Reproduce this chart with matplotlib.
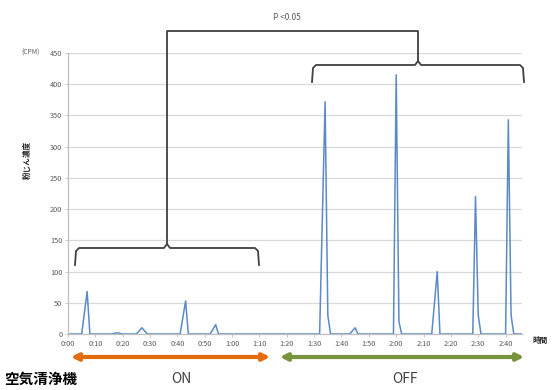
import matplotlib
matplotlib.use("Agg")
import matplotlib.pyplot as plt
from matplotlib.patches import FancyArrowPatch

plt.rcParams['font.family'] = ['Noto Sans CJK JP', 'DejaVu Sans']

# ---- data (minutes since start, particle counts CPM) ----
minutes = [0, 5, 7, 8, 16, 18, 20, 25, 27, 29, 41, 43, 44, 52, 54, 55,
           92, 94, 95, 96, 103, 105, 106, 119, 120, 121, 122, 133, 135, 136,
           148, 149, 150, 151, 160, 161, 162, 163, 166]
cpm = [0, 0, 68, 0, 0, 2, 0, 0, 10, 0, 0, 53, 0, 0, 15, 0,
       0, 372, 30, 0, 0, 10, 0, 0, 415, 20, 0, 0, 100, 0,
       0, 220, 30, 0, 0, 343, 30, 0, 0]
tick_minutes = [0, 10, 20, 30, 40, 50, 60, 70, 80, 90, 100, 110, 120, 130, 140, 150, 160]
tick_labels = ["0:00", "0:10", "0:20", "0:30", "0:40", "0:50", "1:00", "1:10", "1:20",
               "1:30", "1:40", "1:50", "2:00", "2:10", "2:20", "2:30", "2:40"]
y_ticks = [0, 50, 100, 150, 200, 250, 300, 350, 400, 450]
phase_labels = ["ON", "OFF"]
p_text = "P <0.05"

W, H = 556, 390
fig = plt.figure(figsize=(W / 100, H / 100), dpi=100)
ax = fig.add_axes([68 / W, (H - 334) / H, (522 - 68) / W, (334 - 53) / H])

ax.plot(minutes, cpm, color="#5b8ac6", lw=1.1)
ax.set_xlim(0, 166)
ax.set_ylim(0, 450)
ax.set_yticks(y_ticks)
ax.set_xticks(tick_minutes)
ax.set_xticklabels(tick_labels)
ax.tick_params(axis="both", labelsize=5.3, colors="#595959", length=2, width=0.6, pad=2)
ax.tick_params(axis="x", color="#bfbfbf")
ax.tick_params(axis="y", color="#bfbfbf")
ax.grid(axis="y", color="#d9d9d9", lw=0.9)
ax.set_axisbelow(True)
for s in ["top", "right"]:
    ax.spines[s].set_visible(False)
for s in ["left", "bottom"]:
    ax.spines[s].set_color("#bfbfbf")
    ax.spines[s].set_linewidth(0.9)

# overlay in pixel coords
ov = fig.add_axes([0, 0, 1, 1], facecolor="none")
ov.set_xlim(0, W)
ov.set_ylim(H, 0)
ov.axis("off")

bc = "#404040"
lw = 1.3
# ON bracket
ov.plot([75, 76, 79, 164, 167, 170, 255, 258, 259],
        [265, 251, 248, 248, 244, 248, 248, 251, 265], color=bc, lw=lw)
# OFF bracket
ov.plot([312, 313, 316, 415, 418, 421, 520, 523, 524],
        [82, 68, 65, 65, 61, 65, 65, 68, 82], color=bc, lw=lw)
# connecting top bracket
ov.plot([167, 167, 418, 418], [244, 31, 31, 61], color=bc, lw=lw)
ov.text(287, 18, p_text, ha="center", va="center", fontsize=6, color="#595959")

# unit labels
ov.text(40, 53, "(CPM)", ha="right", va="center", fontsize=4.8, color="#595959")
ov.text(27, 160, "粉じん濃度", ha="center", va="center", rotation=90, fontsize=5.5,
        color="#262626", fontweight="bold")
ov.text(540, 340, "時間", ha="center", va="center", fontsize=5.5, color="#262626",
        fontweight="bold")

# ON / OFF arrows
a1 = FancyArrowPatch((68, 357), (273, 357), arrowstyle="<|-|>", mutation_scale=10,
                     color="#e46c0a", lw=3)
a2 = FancyArrowPatch((277, 357), (527, 357), arrowstyle="<|-|>", mutation_scale=10,
                     color="#77933c", lw=3)
ov.add_patch(a1)
ov.add_patch(a2)
ov.text(181, 379, phase_labels[0], ha="center", va="center", fontsize=10, color="#404040")
ov.text(405, 379, phase_labels[1], ha="center", va="center", fontsize=10, color="#404040")
ov.text(4, 379, "空気清浄機", ha="left", va="center", fontsize=10.5, color="#000000",
        fontweight="bold")

fig.savefig("out.png", dpi=100)
